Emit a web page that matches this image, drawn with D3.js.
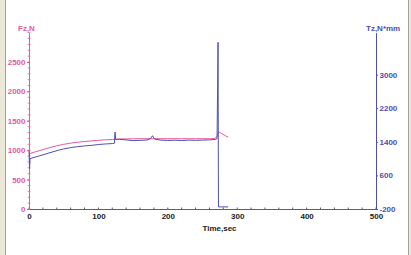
<!DOCTYPE html>
<html>
<head>
<meta charset="utf-8">
<script src="https://cdn.jsdelivr.net/npm/d3@7"></script>
<style>
  html, body { margin: 0; padding: 0; background: #fff; }
  svg text { font-family: "Liberation Sans", Arial, sans-serif; font-weight: bold; font-size: 8px; }
</style>
</head>
<body>
<div id="chart"></div>
<script>
// ---------- Data ----------
const fzTime = [0, 10, 20, 30, 40, 50, 60, 70, 80, 90, 100, 110, 120, 130, 140, 150, 160, 180, 200, 220, 240, 260, 268, 271, 273, 278, 283, 287];
const fzValue = [940, 975, 1010, 1045, 1075, 1100, 1120, 1135, 1148, 1158, 1168, 1176, 1183, 1190, 1192, 1194, 1195, 1195, 1195, 1195, 1195, 1196, 1198, 1240, 1316, 1280, 1245, 1222];

const tzTime = [0, 0.8, 1.5, 10, 20, 30, 42, 50, 60, 70, 80, 91, 100, 110, 120, 123, 124, 125, 130, 140, 150, 160, 170, 175, 178, 181, 190, 200, 210, 220, 230, 240, 250, 260, 268, 271, 272, 272.4, 273, 287];
const tzValue = [1180, 760, 1000, 1040, 1090, 1140, 1198, 1230, 1262, 1285, 1302, 1317, 1335, 1348, 1358, 1365, 1632, 1455, 1460, 1445, 1428, 1435, 1442, 1475, 1545, 1465, 1440, 1432, 1438, 1430, 1440, 1435, 1440, 1445, 1455, 1475, 3060, 3770, -150, -150];

const xTicks = [0, 100, 200, 300, 400, 500];
const fzTicks = [0, 500, 1000, 1500, 2000, 2500];
const tzTicks = [-200, 600, 1400, 2200, 3000];

// ---------- Layout ----------
const width = 411, height = 255;
const pink = "#e45a9c", blue = "#4e4eb2";
const fmt = d => String(d);

const svg = d3.select("#chart").append("svg")
  .attr("width", width)
  .attr("height", height);

// window frame
svg.append("rect").attr("x", 0).attr("y", 0).attr("width", 5).attr("height", height).attr("fill", "#ece9d8");
svg.append("rect").attr("x", 409).attr("y", 0).attr("width", 2).attr("height", height).attr("fill", "#ece9d8");
svg.append("line").attr("x1", 5.5).attr("x2", 5.5).attr("y1", 0).attr("y2", height).attr("stroke", "#a0a0a0");
svg.append("line").attr("x1", 408.5).attr("x2", 408.5).attr("y1", 0).attr("y2", height).attr("stroke", "#a0a0a0");

// ---------- Scales ----------
const x = d3.scaleLinear().domain([0, 500]).range([29, 376]);
const yL = d3.scaleLinear().domain([0, 3000]).range([209, 32.6]);
const yR = d3.scaleLinear().domain([-200, 4000]).range([209, 32.6]);

// ---------- Axes ----------
const xAxis = svg.append("g")
  .attr("transform", "translate(0,209)")
  .call(d3.axisBottom(x).tickValues(xTicks).tickFormat(fmt).tickSizeInner(0).tickSizeOuter(0).tickPadding(4.5));
xAxis.select(".domain").attr("stroke", "#606060");
xAxis.selectAll("text").attr("fill", "#222");
xAxis.append("g").selectAll("line")
  .data(d3.range(0, 501, 20))
  .join("line")
  .attr("x1", d => x(d)).attr("x2", d => x(d))
  .attr("y1", -1.5).attr("y2", 1)
  .attr("stroke", "#606060");

const leftAxis = svg.append("g")
  .attr("transform", "translate(29,0)")
  .call(d3.axisLeft(yL).tickValues(fzTicks).tickFormat(fmt).tickSizeInner(2).tickSizeOuter(0).tickPadding(1.5));
leftAxis.select(".domain").attr("stroke", pink);
leftAxis.selectAll(".tick line").attr("stroke", pink);
leftAxis.selectAll("text").attr("fill", pink);
leftAxis.append("g").selectAll("line")
  .data(d3.range(0, 3001, 100))
  .join("line")
  .attr("x1", -1.5).attr("x2", 1.5)
  .attr("y1", d => yL(d)).attr("y2", d => yL(d))
  .attr("stroke", pink).attr("stroke-opacity", 0.7);

const rightAxis = svg.append("g")
  .attr("transform", "translate(376,0)")
  .call(d3.axisRight(yR).tickValues(tzTicks).tickFormat(fmt).tickSizeInner(2).tickSizeOuter(0).tickPadding(1.5));
rightAxis.select(".domain").attr("stroke", blue);
rightAxis.selectAll(".tick line").attr("stroke", blue);
rightAxis.selectAll("text").attr("fill", blue);

// axis titles
svg.append("text").attr("x", 18).attr("y", 31).attr("fill", pink).text("Fz,N");
svg.append("text").attr("x", 366).attr("y", 31).attr("fill", blue).text("Tz,N*mm");
svg.append("text").attr("x", 219.5).attr("y", 231).attr("text-anchor", "middle").attr("fill", "#222").text("Time,sec");

// ---------- Lines ----------
const fzLine = d3.line().x((d, i) => x(fzTime[i])).y(d => yL(d));
const tzLine = d3.line().x((d, i) => x(tzTime[i])).y(d => yR(d));

svg.append("path")
  .datum(fzValue)
  .attr("d", fzLine)
  .attr("fill", "none")
  .attr("stroke", pink)
  .attr("stroke-width", 1);

svg.append("path")
  .datum(tzValue)
  .attr("d", tzLine)
  .attr("fill", "none")
  .attr("stroke", blue)
  .attr("stroke-width", 1);
</script>
</body>
</html>
